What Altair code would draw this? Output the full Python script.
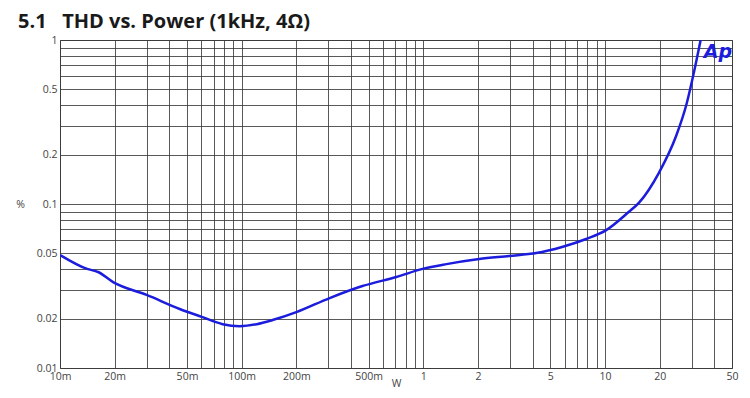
import altair as alt
import pandas as pd

# Curve (W, %)
power = [0.01, 0.0141, 0.0162, 0.0196, 0.030, 0.0456, 0.0603, 0.0786, 0.0975, 0.121,
         0.148, 0.20, 0.305, 0.462, 0.71, 0.99, 1.34, 2.03, 2.97, 4.18,
         5.8, 7.87, 10.1, 13.5, 15.4, 19.8, 24.5, 28.2, 30.8, 33.6]
thd = [0.0489, 0.0402, 0.0385, 0.0334, 0.0279, 0.0229, 0.0205, 0.0185, 0.018, 0.0185,
       0.0196, 0.0219, 0.0267, 0.0316, 0.0359, 0.0402, 0.043, 0.0462, 0.0482, 0.0502,
       0.0547, 0.0612, 0.069, 0.0894, 0.102, 0.155, 0.256, 0.413, 0.629, 1.0]

# Axis ticks / grid
x_grid = [0.01, 0.02, 0.03, 0.04, 0.05, 0.06, 0.07, 0.08, 0.09,
          0.1, 0.2, 0.3, 0.4, 0.5, 0.6, 0.7, 0.8, 0.9,
          1, 2, 3, 4, 5, 6, 7, 8, 9,
          10, 20, 30, 40, 50]
x_label_vals = [0.01, 0.02, 0.05, 0.1, 0.2, 0.5, 1, 2, 5, 10, 20, 50]
x_label_txt = ["10m", "20m", "50m", "100m", "200m", "500m", "1", "2", "5", "10", "20", "50"]

y_grid = [0.01, 0.02, 0.03, 0.04, 0.05, 0.06, 0.07, 0.08, 0.09,
          0.1, 0.2, 0.3, 0.4, 0.5, 0.6, 0.7, 0.8, 0.9, 1]
y_label_vals = [0.01, 0.02, 0.05, 0.1, 0.2, 0.5, 1]
y_label_txt = ["0.01", "0.02", "0.05", "0.1", "0.2", "0.5", "1"]

title_text = "5.1\u00a0\u00a0\u00a0THD vs. Power (1kHz, 4Ω)"


def label_expr(vals, txts):
    expr = "''"
    for v, t in reversed(list(zip(vals, txts))):
        expr = f"abs(datum.value - {v}) < {v}*1e-6 ? '{t}' : ({expr})"
    return expr


df = pd.DataFrame({"W": power, "THD": thd})

GRID = "#3c3c3c"
LABEL = "#444444"
FONT = "Open Sans"
BLUE = "#1c1cdc"

line = alt.Chart(df).mark_line(color=BLUE, strokeWidth=2.5, clip=True,
                               interpolate="monotone").encode(
    x=alt.X("W:Q",
            scale=alt.Scale(type="log", domain=[0.01, 50], nice=False),
            axis=alt.Axis(values=x_grid, labelExpr=label_expr(x_label_vals, x_label_txt),
                          title="W", grid=True, gridColor=GRID, gridWidth=1, gridOpacity=0.85,
                          ticks=False, domain=False, labelPadding=3,
                          labelFontSize=10.5, labelColor=LABEL, labelFont=FONT,
                          titleFont=FONT, titleFontSize=10.5, titleFontWeight="normal",
                          titleColor=LABEL, titleY=15, titleBaseline="middle",
                          labelOverlap=False, labelFlush=False)),
    y=alt.Y("THD:Q",
            scale=alt.Scale(type="log", domain=[0.01, 1], nice=False),
            axis=alt.Axis(values=y_grid, labelExpr=label_expr(y_label_vals, y_label_txt),
                          title="%", grid=True, gridColor=GRID, gridWidth=1, gridOpacity=0.85,
                          ticks=False, domain=False, labelPadding=3,
                          labelFontSize=10.5, labelColor=LABEL, labelFont=FONT,
                          titleFont=FONT, titleFontSize=10.5, titleFontWeight="normal",
                          titleColor=LABEL, titleAngle=0, titleX=-40, titleY=164,
                          titleAlign="center", titleBaseline="middle",
                          labelOverlap=False, labelFlush=False)),
)

logo = alt.Chart(pd.DataFrame({"t": ["Ap"]})).mark_text(
    text="Ap", color=BLUE, font="DejaVu Sans", fontSize=19, fontWeight="bold",
    fontStyle="italic", align="center", baseline="middle"
).encode(x=alt.value(658), y=alt.value(12))

title = alt.Chart(pd.DataFrame({"t": [title_text]})).mark_text(
    color="#1a1a1a", font=FONT, fontSize=20, fontWeight="bold",
    align="left", baseline="alphabetic"
).encode(text="t:N", x=alt.value(-42), y=alt.value(-12))

chart = alt.layer(line, logo, title).properties(
    width=672, height=328,
    autosize=alt.AutoSizeParams(type="none"),
    padding={"left": 52, "top": 32, "right": 10, "bottom": 22},
).configure_view(stroke=GRID, strokeWidth=1)

chart.save("out.html", embed_options={"renderer": "svg", "actions": False})
